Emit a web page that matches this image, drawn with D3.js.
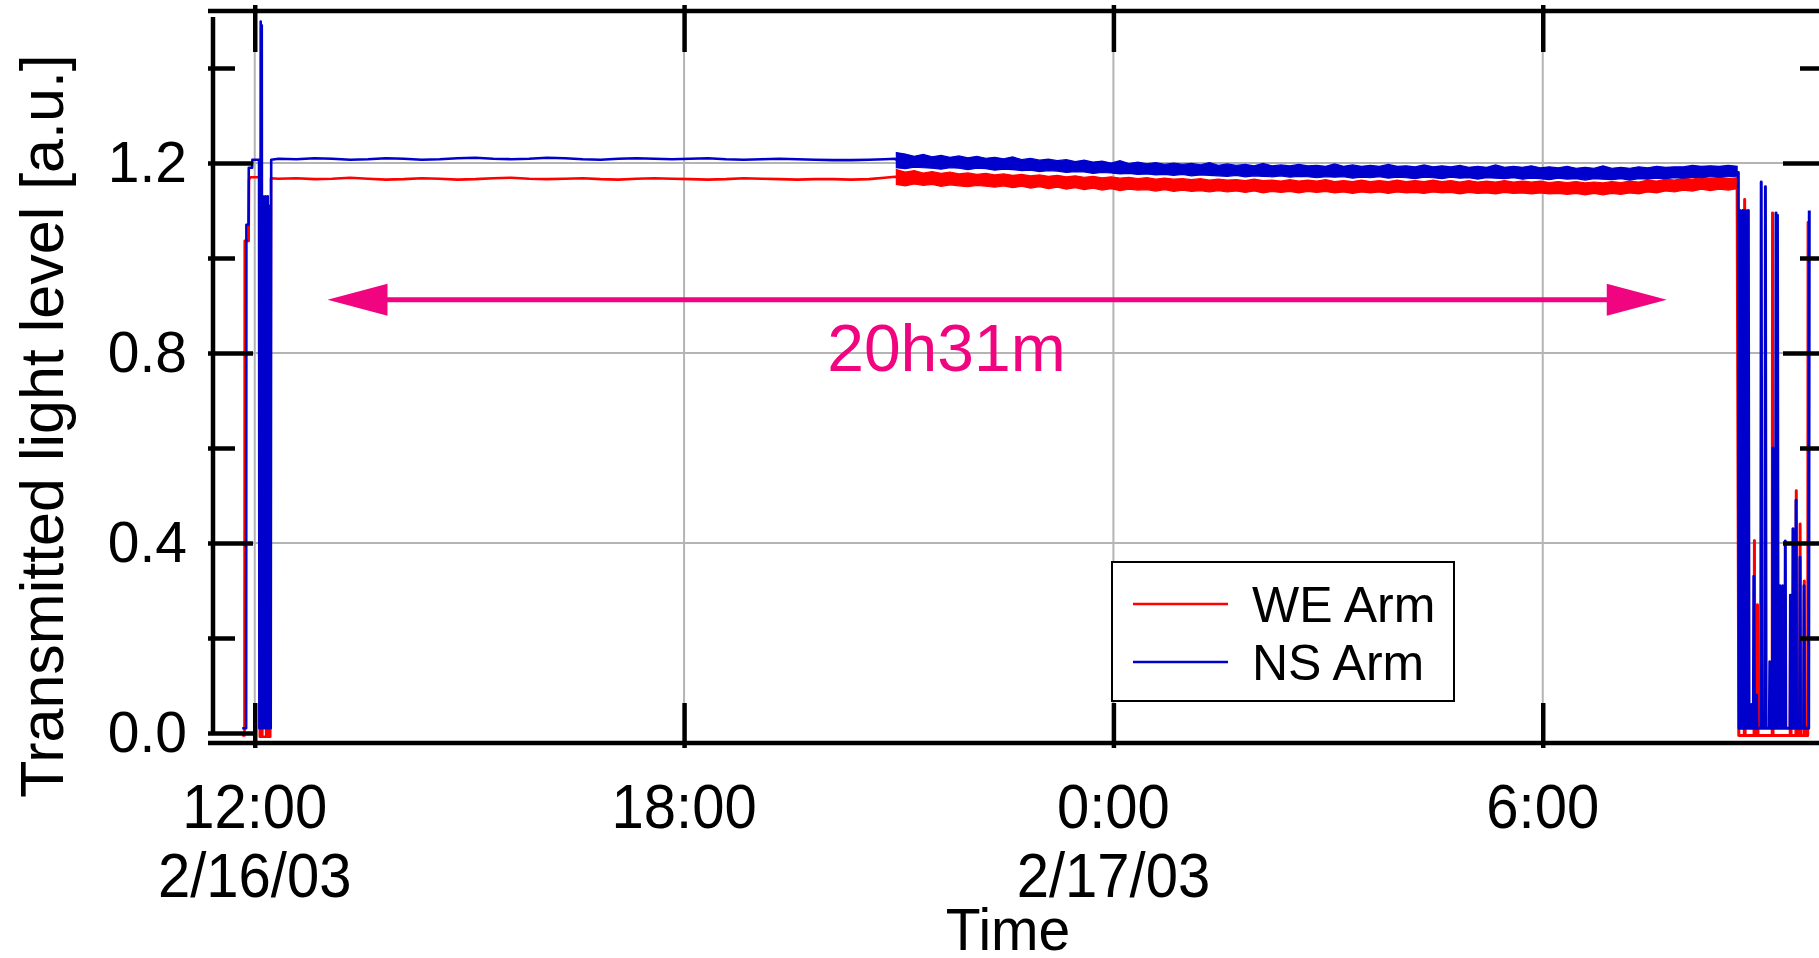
<!DOCTYPE html>
<html>
<head>
<meta charset="utf-8">
<script src="https://cdn.jsdelivr.net/npm/d3@7"></script>
<style>
  html, body { margin: 0; padding: 0; background: #fff; overflow: hidden; }
  svg { display: block; font-family: "Liberation Sans", Arial, sans-serif; }
</style>
</head>
<body>
<svg id="chart"></svg>
<script>
// times are minutes after 12:00 on 2/16/03
const startDate = new Date(2003, 1, 16, 12, 0);
const xDomainMin = [-35, 1315];
const yDomain = [0, 1.52];

const xTickMin = [0, 360, 720, 1080];
const xTickLabels = [["12:00", "2/16/03"], ["18:00"], ["0:00", "2/17/03"], ["6:00"]];
const yTicks = [0, 0.4, 0.8, 1.2];
const yMinorTicks = [0.2, 0.6, 1.0, 1.4];

const seriesNames = ["WE Arm", "NS Arm"];

// lock acquisition + quiet first part [minute, level]
const weHead = [[-10.5, -0.005], [-8.6, -0.005], [-8.4, 1.036], [-5.1, 1.036], [-4.8, 1.165], [-3.5, 1.170],
  [4.0, 1.170], [4.3, -0.008], [5.6, -0.008], [6.0, 0.95], [6.4, -0.008], [9.6, -0.008], [10.0, 1.0],
  [10.4, -0.008], [11.0, -0.008], [11.5, 0.9], [12.0, -0.008], [13.0, -0.008], [13.6, 1.168],
  [20, 1.167], [35, 1.168], [50, 1.166], [65, 1.167], [80, 1.169], [95, 1.167], [110, 1.165], [125, 1.166],
  [140, 1.168], [155, 1.167], [170, 1.165], [185, 1.166], [200, 1.168], [215, 1.169], [230, 1.167],
  [245, 1.166], [260, 1.167], [275, 1.168], [290, 1.166], [305, 1.165], [320, 1.167], [335, 1.168],
  [350, 1.167], [365, 1.166], [380, 1.165], [395, 1.166], [410, 1.168], [425, 1.167], [440, 1.166],
  [455, 1.165], [470, 1.166], [485, 1.166], [500, 1.165], [515, 1.166], [528, 1.169], [537, 1.171]];

const nsHead = [[-10.5, 0.01], [-7.2, 0.01], [-7.0, 1.07], [-5.2, 1.07], [-5.0, 1.19], [-2.2, 1.19],
  [-2.0, 1.207], [3.6, 1.207], [3.9, 0.01], [4.6, 0.01], [5.0, 1.498], [5.4, 0.01], [5.9, 1.49], [6.3, 0.01],
  [6.9, 1.13], [7.4, 0.01], [7.9, 1.12], [8.4, 0.01], [8.9, 1.13], [9.4, 0.01], [9.9, 1.12], [10.4, 0.01],
  [10.9, 1.13], [11.4, 0.01], [11.9, 1.11], [12.4, 0.01], [13.0, 1.1], [13.4, 0.01], [13.8, 1.207],
  [20, 1.209], [35, 1.208], [50, 1.210], [65, 1.209], [80, 1.207], [95, 1.208], [110, 1.210], [125, 1.209],
  [140, 1.207], [155, 1.208], [170, 1.210], [185, 1.211], [200, 1.209], [215, 1.208], [230, 1.209],
  [245, 1.211], [260, 1.210], [275, 1.208], [290, 1.207], [305, 1.209], [320, 1.210], [335, 1.209],
  [350, 1.208], [365, 1.209], [380, 1.210], [395, 1.208], [410, 1.207], [425, 1.208], [440, 1.209],
  [455, 1.208], [470, 1.207], [485, 1.206], [500, 1.206], [515, 1.207], [528, 1.208], [537, 1.209]];

// noisy second part, given as low / high envelope
const bandMin = [538, 545.5, 553, 560.5, 568, 575.5, 583, 590.5, 598, 605.5, 613, 620.5, 628, 635.5,
  643, 650.5, 658, 665.5, 673, 680.5, 688, 695.5, 703, 710.5, 718, 725.5, 733, 740.5, 748, 755.5,
  763, 770.5, 778, 785.5, 793, 800.5, 808, 815.5, 823, 830.5, 838, 845.5, 853, 860.5, 868, 875.5,
  883, 890.5, 898, 905.5, 913, 920.5, 928, 935.5, 943, 950.5, 958, 965.5, 973, 980.5, 988, 995.5,
  1003, 1010.5, 1018, 1025.5, 1033, 1040.5, 1048, 1055.5, 1063, 1070.5, 1078, 1085.5, 1093, 1100.5,
  1108, 1115.5, 1123, 1130.5, 1138, 1145.5, 1153, 1160.5, 1168, 1175.5, 1183, 1190.5, 1198, 1205.5,
  1213, 1220.5, 1228, 1235.5, 1243];
const weHi = [1.186, 1.181, 1.184, 1.179, 1.182, 1.178, 1.181, 1.177, 1.179, 1.176, 1.178, 1.175,
  1.177, 1.174, 1.176, 1.173, 1.175, 1.172, 1.174, 1.171, 1.173, 1.170, 1.172, 1.169, 1.171, 1.168,
  1.170, 1.167, 1.169, 1.166, 1.168, 1.166, 1.167, 1.165, 1.167, 1.164, 1.166, 1.164, 1.165, 1.163,
  1.166, 1.163, 1.164, 1.162, 1.165, 1.162, 1.164, 1.162, 1.165, 1.161, 1.163, 1.161, 1.164, 1.161,
  1.163, 1.161, 1.164, 1.161, 1.163, 1.161, 1.164, 1.161, 1.163, 1.160, 1.163, 1.160, 1.162, 1.160,
  1.163, 1.160, 1.162, 1.160, 1.162, 1.159, 1.161, 1.159, 1.161, 1.158, 1.160, 1.158, 1.161, 1.159,
  1.162, 1.160, 1.164, 1.162, 1.166, 1.164, 1.168, 1.166, 1.169, 1.167, 1.170, 1.167, 1.169];
const weLo = [1.155, 1.152, 1.156, 1.153, 1.155, 1.151, 1.154, 1.152, 1.150, 1.153, 1.151, 1.149,
  1.152, 1.148, 1.151, 1.147, 1.150, 1.146, 1.149, 1.145, 1.148, 1.144, 1.147, 1.143, 1.146, 1.142,
  1.145, 1.143, 1.144, 1.141, 1.144, 1.140, 1.143, 1.140, 1.142, 1.139, 1.142, 1.139, 1.141, 1.138,
  1.141, 1.137, 1.140, 1.138, 1.140, 1.137, 1.140, 1.138, 1.140, 1.137, 1.139, 1.136, 1.139, 1.137,
  1.139, 1.136, 1.139, 1.137, 1.138, 1.136, 1.139, 1.137, 1.138, 1.135, 1.138, 1.136, 1.137, 1.135,
  1.138, 1.136, 1.137, 1.135, 1.137, 1.135, 1.136, 1.134, 1.136, 1.133, 1.136, 1.133, 1.136, 1.134,
  1.137, 1.135, 1.139, 1.137, 1.141, 1.139, 1.143, 1.141, 1.145, 1.142, 1.145, 1.143, 1.146];
const nsHi = [1.222, 1.219, 1.214, 1.218, 1.213, 1.216, 1.212, 1.215, 1.211, 1.214, 1.210, 1.212,
  1.209, 1.213, 1.207, 1.210, 1.206, 1.208, 1.205, 1.207, 1.203, 1.206, 1.202, 1.204, 1.200, 1.205,
  1.199, 1.202, 1.198, 1.201, 1.197, 1.200, 1.197, 1.199, 1.196, 1.201, 1.195, 1.198, 1.195, 1.197,
  1.194, 1.199, 1.194, 1.196, 1.194, 1.197, 1.194, 1.195, 1.193, 1.198, 1.193, 1.196, 1.193, 1.195,
  1.193, 1.197, 1.193, 1.194, 1.192, 1.196, 1.192, 1.194, 1.192, 1.195, 1.191, 1.193, 1.191, 1.196,
  1.191, 1.193, 1.191, 1.194, 1.190, 1.192, 1.190, 1.193, 1.189, 1.191, 1.189, 1.194, 1.189, 1.191,
  1.189, 1.192, 1.190, 1.193, 1.191, 1.192, 1.192, 1.195, 1.193, 1.194, 1.193, 1.195, 1.193];
const nsLo = [1.190, 1.188, 1.191, 1.190, 1.189, 1.187, 1.190, 1.189, 1.186, 1.189, 1.188, 1.185,
  1.187, 1.186, 1.184, 1.185, 1.182, 1.184, 1.183, 1.180, 1.182, 1.181, 1.178, 1.180, 1.179, 1.177,
  1.178, 1.176, 1.177, 1.175, 1.176, 1.174, 1.176, 1.173, 1.175, 1.174, 1.173, 1.172, 1.174, 1.171,
  1.173, 1.172, 1.171, 1.173, 1.170, 1.172, 1.171, 1.169, 1.171, 1.170, 1.171, 1.168, 1.170, 1.169,
  1.171, 1.168, 1.170, 1.169, 1.167, 1.170, 1.169, 1.167, 1.170, 1.168, 1.169, 1.166, 1.169, 1.168,
  1.167, 1.169, 1.166, 1.168, 1.167, 1.165, 1.168, 1.166, 1.167, 1.164, 1.167, 1.166, 1.165, 1.167,
  1.164, 1.167, 1.166, 1.168, 1.167, 1.169, 1.168, 1.170, 1.169, 1.171, 1.170, 1.171, 1.172];

// lock loss at the end
const weTail = [[1243, 1.155], [1244.4, -0.005], [1249.0, -0.005], [1249.3, 1.123], [1249.7, -0.005],
  [1257.2, -0.005], [1257.5, 0.405], [1257.9, -0.005], [1259.8, -0.005], [1260.1, 0.27], [1260.5, -0.005],
  [1272.4, -0.005], [1272.7, 1.095], [1273.1, -0.005], [1287.5, -0.005], [1287.8, 0.29], [1288.2, -0.005],
  [1292.3, -0.005], [1292.6, 0.51], [1293.0, -0.005], [1295.5, -0.005], [1295.8, 0.44], [1296.2, -0.005],
  [1299.0, -0.005], [1299.3, 0.32], [1299.7, -0.005], [1302.2, -0.005], [1302.5, 1.075], [1303.0, 1.01]];
const nsTail = [[1243, 1.18], [1244.0, 1.18], [1244.6, 0.01], [1245.2, 1.1], [1245.8, 0.01], [1246.4, 1.08],
  [1247.0, 0.01], [1247.6, 1.1], [1248.2, 0.01], [1248.8, 1.09], [1249.4, 0.01], [1250.0, 1.1],
  [1250.6, 0.01], [1251.2, 1.08], [1251.8, 0.01], [1252.4, 1.1], [1253.0, 0.01], [1255.0, 0.01],
  [1255.3, 0.06], [1255.6, 0.01], [1256.6, 0.01], [1257.0, 0.33], [1257.6, 0.01], [1259.0, 0.01],
  [1259.3, 0.08], [1259.6, 0.01], [1262.8, 0.01], [1263.2, 1.16], [1263.8, 0.01], [1266.3, 0.01],
  [1266.7, 1.15], [1267.3, 0.01], [1270.0, 0.01], [1270.4, 0.15], [1270.8, 0.01], [1272.6, 0.01],
  [1273.0, 0.6], [1273.4, 0.01], [1275.2, 0.01], [1275.6, 1.095], [1276.2, 0.01], [1276.8, 1.09],
  [1277.4, 0.01], [1278.5, 0.01], [1278.8, 0.31], [1279.1, 0.01], [1280.8, 0.01], [1281.2, 0.31],
  [1281.6, 0.01], [1283.0, 0.01], [1283.4, 0.404], [1283.8, 0.01], [1287.3, 0.01], [1287.7, 0.29],
  [1288.1, 0.01], [1289.4, 0.01], [1289.8, 0.43], [1290.2, 0.01], [1292.0, 0.01], [1292.4, 0.49],
  [1292.8, 0.01], [1295.3, 0.01], [1295.7, 0.37], [1296.1, 0.01], [1298.7, 0.01], [1299.1, 0.31],
  [1299.5, 0.01], [1303.0, 0.01], [1303.5, 1.1]];

// annotation: lock duration arrow
const arrowMin = [61, 1184];
const arrowLevel = 0.912;
const durationLabel = "20h31m";
const durationAt = [580, 0.762];

const width = 1819, height = 958;
const colors = { we: "#ff0000", ns: "#0000cc", note: "#f0047f", grid: "#b4b4b4" };

const toDate = m => new Date(startDate.getTime() + m * 60000);

const svg = d3.select("#chart").attr("width", width).attr("height", height);

const x = d3.scaleTime().domain(xDomainMin.map(toDate)).range([213, 1823]);
const y = d3.scaleLinear().domain(yDomain).range([733, 11]);

const xLeft = 213, xRight = 1823, yTop = 11, yBottom = 743;

// grid
svg.append("g").selectAll("line").data(xTickMin).join("line")
    .attr("x1", d => x(toDate(d))).attr("x2", d => x(toDate(d)))
    .attr("y1", yTop).attr("y2", yBottom)
    .attr("stroke", colors.grid).attr("stroke-width", 2);
svg.append("g").selectAll("line").data(yTicks.filter(d => d > 0)).join("line")
    .attr("x1", xLeft).attr("x2", xRight)
    .attr("y1", d => y(d)).attr("y2", d => y(d))
    .attr("stroke", colors.grid).attr("stroke-width", 2);

// data
const line = d3.line().x(d => x(toDate(d[0]))).y(d => y(d[1]));

function drawSeries(headPts, lo, hi, tail, color) {
    const g = svg.append("g");
    const idx = d3.range(bandMin.length);
    const bandPath = d3.area()
        .x(i => x(toDate(bandMin[i])))
        .y0(i => y(lo[i])).y1(i => y(hi[i]));
    const joined = headPts.concat([[bandMin[0], (lo[0] + hi[0]) / 2]]);
    g.append("path").attr("d", line(joined))
        .attr("fill", "none").attr("stroke", color).attr("stroke-width", 2.6)
        .attr("stroke-linejoin", "round");
    g.append("path").attr("d", bandPath(idx))
        .attr("fill", color).attr("stroke", color).attr("stroke-width", 1.2);
    g.append("path").attr("d", line(tail))
        .attr("fill", "none").attr("stroke", color).attr("stroke-width", 3)
        .attr("stroke-linejoin", "round");
}
drawSeries(weHead, weLo, weHi, weTail, colors.we);
drawSeries(nsHead, nsLo, nsHi, nsTail, colors.ns);

// axes
const axisStroke = g => g.selectAll("line, path").attr("stroke", "#000").attr("stroke-width", 4.5);

const leftAxis = svg.append("g").attr("transform", `translate(208,0)`)
    .call(d3.axisLeft(y).tickValues(yTicks).tickSize(-45).tickPadding(21).tickFormat(d3.format(".1f")));
leftAxis.select(".domain").remove();
leftAxis.call(axisStroke);
leftAxis.selectAll("text").attr("font-size", 57).attr("fill", "#000")
    .attr("font-family", "Liberation Sans, Arial, sans-serif");

const leftMinor = svg.append("g").attr("transform", `translate(208,0)`)
    .call(d3.axisLeft(y).tickValues(yMinorTicks).tickSize(-27).tickFormat(""));
leftMinor.select(".domain").remove();
leftMinor.call(axisStroke);

const rightAxis = svg.append("g").attr("transform", `translate(1828,0)`)
    .call(d3.axisRight(y).tickValues(yTicks.filter(d => d > 0)).tickSize(-45).tickFormat(""));
rightAxis.select(".domain").remove();
rightAxis.call(axisStroke);
const rightMinor = svg.append("g").attr("transform", `translate(1828,0)`)
    .call(d3.axisRight(y).tickValues(yMinorTicks).tickSize(-28).tickFormat(""));
rightMinor.select(".domain").remove();
rightMinor.call(axisStroke);

const bottomAxis = svg.append("g").attr("transform", `translate(0,748)`)
    .call(d3.axisBottom(x).tickValues(xTickMin.map(toDate)).tickSize(-45).tickFormat(""));
bottomAxis.select(".domain").remove();
bottomAxis.call(axisStroke);

const topAxis = svg.append("g").attr("transform", `translate(0,5)`)
    .call(d3.axisTop(x).tickValues(xTickMin.map(toDate)).tickSize(-47).tickFormat(""));
topAxis.select(".domain").remove();
topAxis.call(axisStroke);

// spines
const spines = svg.append("g").attr("stroke", "#000").attr("stroke-width", 4.5);
spines.append("line").attr("x1", xLeft).attr("x2", xLeft).attr("y1", 17).attr("y2", 735);
spines.append("line").attr("x1", 208).attr("x2", width + 10).attr("y1", yTop).attr("y2", yTop);
spines.append("line").attr("x1", 208).attr("x2", width + 10).attr("y1", yBottom).attr("y2", yBottom);
spines.append("line").attr("x1", xRight).attr("x2", xRight).attr("y1", 17).attr("y2", 735);

// x tick labels
const xLab = svg.append("g").attr("font-size", 58).attr("text-anchor", "middle").attr("fill", "#000");
xTickMin.forEach((m, i) => {
    xTickLabels[i].forEach((s, j) => {
        xLab.append("text")
            .attr("transform", `translate(${x(toDate(m))},${828 + j * 69}) scale(1,1.07)`)
            .text(s);
    });
});

svg.append("text").attr("transform", `translate(${(xLeft + xRight) / 2 - 10},950) scale(1,1.04)`)
    .attr("text-anchor", "middle").attr("font-size", 57).text("Time");

svg.append("text").attr("transform", "translate(63,426) rotate(-90)")
    .attr("text-anchor", "middle").attr("font-size", 61).text("Transmitted light level [a.u.]");

// duration arrow
const ax0 = x(toDate(arrowMin[0])), ax1 = x(toDate(arrowMin[1])), ay = y(arrowLevel);
const headLen = 60, headHalf = 16;
const note = svg.append("g").attr("fill", colors.note);
note.append("line").attr("x1", ax0 + headLen - 2).attr("x2", ax1 - headLen + 2).attr("y1", ay).attr("y2", ay)
    .attr("stroke", colors.note).attr("stroke-width", 5);
note.append("path").attr("d", `M${ax0},${ay}L${ax0 + headLen},${ay - headHalf}L${ax0 + headLen},${ay + headHalf}Z`);
note.append("path").attr("d", `M${ax1},${ay}L${ax1 - headLen},${ay - headHalf}L${ax1 - headLen},${ay + headHalf}Z`);
note.append("text").attr("x", x(toDate(durationAt[0]))).attr("y", y(durationAt[1]))
    .attr("text-anchor", "middle").attr("font-size", 66).text(durationLabel);

// legend
const legend = svg.append("g").attr("transform", "translate(1112,562)");
legend.append("rect").attr("width", 342).attr("height", 139)
    .attr("fill", "#fff").attr("stroke", "#000").attr("stroke-width", 2);
const legendColors = [colors.we, colors.ns];
seriesNames.forEach((name, i) => {
    const ly = 42 + i * 58;
    legend.append("line").attr("x1", 21).attr("x2", 116).attr("y1", ly).attr("y2", ly)
        .attr("stroke", legendColors[i]).attr("stroke-width", 2.5);
    legend.append("text").attr("x", 140).attr("y", ly + 18).attr("font-size", 50).text(name);
});
</script>
</body>
</html>
